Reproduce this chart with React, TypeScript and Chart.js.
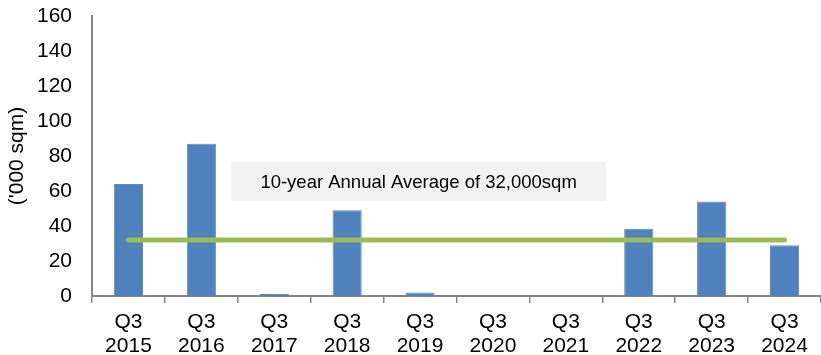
import React, { useEffect, useRef } from "react";
import { Chart, registerables } from "chart.js";

Chart.register(...registerables);

const categories: string[][] = [
  ["Q3", "2015"], ["Q3", "2016"], ["Q3", "2017"], ["Q3", "2018"], ["Q3", "2019"],
  ["Q3", "2020"], ["Q3", "2021"], ["Q3", "2022"], ["Q3", "2023"], ["Q3", "2024"],
];
const supplyValues: number[] = [64, 87, 1.2, 49, 2, 0, 0, 38.5, 54, 29];
const averageValue = 32;
const averageValues: number[] = categories.map(() => averageValue);
const annotationText = "10-year Annual Average of 32,000sqm";
// annotation box in data coordinates: category index range, value range
const annotationX: number[] = [1.41, 6.55];
const annotationY: number[] = [76.6, 54.3];
const yTitle = "('000 sqm)";

const FONT = "'Liberation Sans', Arial, sans-serif";

const annotationPlugin = {
  id: "avgAnnotation",
  afterDatasetsDraw(chart: any) {
    const { ctx, scales } = chart;
    const x = scales.x;
    const y = scales.y;
    const left = x.getPixelForValue(annotationX[0]);
    const right = x.getPixelForValue(annotationX[1]);
    const top = y.getPixelForValue(annotationY[0]);
    const bottom = y.getPixelForValue(annotationY[1]);
    ctx.save();
    ctx.fillStyle = "#F2F2F2";
    ctx.fillRect(left, top, right - left, bottom - top);
    ctx.fillStyle = "#000000";
    ctx.font = `18.5px ${FONT}`;
    ctx.textAlign = "center";
    ctx.textBaseline = "middle";
    ctx.fillText(annotationText, (left + right) / 2, (top + bottom) / 2 + 1);
    ctx.restore();
  },
};

export default function App() {
  const ref = useRef<HTMLCanvasElement | null>(null);
  useEffect(() => {
    if (!ref.current) return;
    const chart = new Chart(ref.current, {
      type: "bar",
      data: {
        labels: categories,
        datasets: [
          {
            type: "line",
            data: averageValues,
            borderColor: "#9BBB59",
            borderWidth: 5,
            borderCapStyle: "round",
            pointRadius: 0,
            fill: false,
            order: 0,
          } as any,
          {
            type: "bar",
            data: supplyValues,
            backgroundColor: "#4F81BD",
            borderColor: "#5A8BC6",
            borderWidth: 1,
            barPercentage: 0.4,
            categoryPercentage: 1,
            order: 1,
          },
        ],
      },
      options: {
        responsive: false,
        animation: false,
        layout: { padding: { top: 16, right: 0, left: 0, bottom: 0 } },
        plugins: { legend: { display: false }, tooltip: { enabled: false } },
        scales: {
          x: {
            offset: true,
            grid: {
              display: true,
              offset: true,
              drawOnChartArea: false,
              drawTicks: true,
              tickLength: 7,
              color: "#868686",
              lineWidth: 1.5,
            },
            border: { display: true, color: "#868686", width: 2 },
            ticks: {
              color: "#000000",
              font: { family: FONT, size: 21, lineHeight: 1.15 },
              padding: 7,
              maxRotation: 0,
              autoSkip: false,
            },
            afterFit: (s: any) => { s.height = 59; s.paddingLeft = 0; s.paddingRight = 0; },
          },
          y: {
            min: 0,
            max: 160,
            grid: { display: false },
            border: { display: true, color: "#868686", width: 2 },
            ticks: {
              stepSize: 20,
              color: "#000000",
              font: { family: FONT, size: 21 },
              padding: 12,
            },
            title: {
              display: true,
              text: yTitle,
              color: "#000000",
              font: { family: FONT, size: 21 },
              padding: { top: 5, bottom: 0 },
            },
            afterFit: (s: any) => { s.width = 92; s.paddingTop = 0; s.paddingBottom = 0; },
          },
        },
      },
      plugins: [annotationPlugin],
    });
    return () => chart.destroy();
  }, []);
  return (
    <div style={{ position: "fixed", left: 0, top: 0, width: 821, height: 355, background: "#fff" }}>
      <canvas ref={ref} width={821} height={355} style={{ display: "block" }} />
    </div>
  );
}
